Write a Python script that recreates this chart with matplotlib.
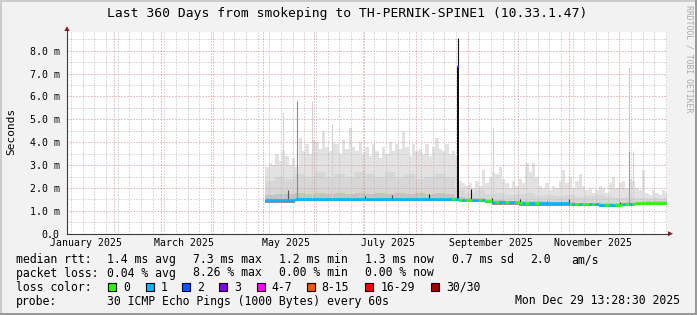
import matplotlib
matplotlib.use('Agg')
import matplotlib.pyplot as plt
import matplotlib.dates as mdates
from matplotlib.patches import Rectangle, Polygon
import numpy as np
import pandas as pd

plt.rcParams['font.family'] = 'DejaVu Sans Mono'

W, H = 697, 315

t_start = pd.Timestamp('2025-01-03 13:28:30')
t_end = pd.Timestamp('2025-12-29 13:28:30')

# smoke, one sample every 2 days starting 2 May
smoke_start = '2025-05-02 14:00'
smoke_top = [2.9, 3.1, 3.0, 3.5, 3.2, 3.6, 3.4, 3.0, 3.3, 2.9,
             4.2, 3.6, 3.9, 3.5, 4.1, 4.0, 3.7, 4.5, 3.8, 3.6,
             4.0, 3.9, 3.5, 4.1, 3.7, 4.6, 3.8, 3.6, 4.0, 3.5,
             3.8, 3.4, 3.9, 3.6, 3.3, 3.8, 3.5, 4.0, 3.6, 3.9,
             3.7, 4.5, 3.8, 3.4, 3.9, 3.6, 3.7, 3.5, 3.9, 3.4,
             3.8, 4.2, 3.7, 3.6, 3.9, 3.5, 3.6, 3.4, 2.3, 2.2,
             2.1, 2.2, 2.0, 2.3, 2.1, 2.8, 2.2, 2.5, 2.7, 2.6,
             2.9, 2.4, 2.2, 2.0, 2.3, 2.1, 2.4, 2.2, 3.1, 2.7,
             3.1, 2.5, 2.1, 2.0, 2.2, 1.9, 2.1, 2.0, 2.3, 2.8,
             2.2, 2.5, 2.0, 2.3, 2.6, 2.1, 1.9, 2.0, 1.8, 1.9,
             2.1, 2.0, 1.8, 2.2, 2.5, 2.0, 2.2, 2.3, 2.0, 2.4,
             2.3, 2.0, 1.9, 2.8, 1.8, 1.7, 1.9, 1.8, 1.7, 1.9,
             1.8]

# denser smoke bands, one value per 6 days
smoke_mid = [2.3, 2.5, 2.4, 2.6, 2.5, 2.7, 2.5, 2.6, 2.5, 2.7,
             2.6, 2.5, 2.7, 2.5, 2.6, 2.4, 2.5, 2.6, 2.5,
             1.9, 1.8, 1.9, 1.75, 1.8, 1.7, 1.75, 1.8, 1.65, 1.7,
             1.65, 1.7, 1.6, 1.65, 1.7, 1.6, 1.55, 1.6, 1.55, 1.55,
             1.55, 1.55]
smoke_dark = [1.7, 1.75, 1.75, 1.8, 1.75, 1.8, 1.75, 1.8, 1.75, 1.8,
              1.75, 1.8, 1.75, 1.8, 1.75, 1.8, 1.75, 1.8, 1.75,
              1.6, 1.55, 1.55, 1.5, 1.48, 1.45, 1.42, 1.42, 1.42, 1.38,
              1.38, 1.38, 1.36, 1.36, 1.34, 1.34, 1.36, 1.4, 1.4, 1.42,
              1.42, 1.42]

median_rtt = ([1.46] * 9 + [1.53] * 49 + [1.47] * 8 + [1.44] * 2 + [1.37] * 8
              + [1.33] * 15 + [1.31] * 9 + [1.27] * 7 + [1.29] * 4 + [1.34] * 10)

loss = ([1] * 56 + [0, 1]
        + [0, 1, 0, 0, 1, 1, 0, 1, 0, 0, 1, 0, 1, 1, 0, 1, 1, 0, 0, 1,
           0, 1, 1, 0, 1, 1, 1, 1, 1, 1, 1, 1, 1, 0, 1, 0, 1, 0, 0, 1,
           0, 1, 1, 1, 0, 1, 1, 0, 0, 1, 0, 1, 0]
        + [0] * 10)

# single thin columns of smoke (spikes and dense spots)
col_dates = ['2025-05-13 04:00', '2025-05-30 09:00', '2025-06-11 09:40', '2025-09-16 04:00',
             '2025-12-09 04:00',
             '2025-05-16 08:40', '2025-05-21 17:00', '2025-07-01 08:40', '2025-07-17 09:00',
             '2025-08-09 00:00', '2025-08-26 08:40', '2025-09-02 23:00', '2025-09-15 09:00',
             '2025-10-02 08:40', '2025-10-18 09:00', '2025-10-31 19:00', '2025-12-01 09:00',
             '2025-12-06 23:00', '2025-12-06 23:00']
col_low = [1.5, 1.5, 1.5, 1.4, 1.3,
           1.5, 1.45, 1.5, 1.5, 1.5, 1.5, 1.45, 1.4, 1.33, 1.3, 1.3, 1.25, 1.25, 3.6]
col_high = [5.3, 5.8, 4.8, 4.6, 3.6,
            1.9, 5.8, 1.65, 1.7, 1.75, 7.3, 1.95, 1.55, 1.5, 1.45, 1.5, 1.4, 3.6, 7.3]
col_shade = ['#d2d2d2', '#d2d2d2', '#d2d2d2', '#d2d2d2', '#d2d2d2',
             '#555555', '#8a8a8a', '#333333', '#444444', '#222222', '#111111', '#111111',
             '#333333', '#333333', '#333333', '#444444', '#333333', '#9c9c9c', '#cccccc']

spike_date = '2025-08-26 08:40'
spike_max = 8.55
spike_median = 7.3
spike_loss = 3

loss_colors = ['#26ff00', '#00b8ff', '#0059ff', '#7e00ff', '#ff00ff', '#ff5500', '#ff0000', '#a10000']
loss_labels = ['0', '1', '2', '3', '4-7', '8-15', '16-29', '30/30']

month_labels = ['January 2025', 'March 2025', 'May 2025', 'July 2025', 'September 2025', 'November 2025']
month_label_dates = ['2025-01-15', '2025-03-15', '2025-05-15', '2025-07-15', '2025-09-15', '2025-11-15']

y_ticks = [0, 1, 2, 3, 4, 5, 6, 7, 8]
y_labels = ['0.0', '1.0 m', '2.0 m', '3.0 m', '4.0 m', '5.0 m', '6.0 m', '7.0 m', '8.0 m']

title = 'Last 360 Days from smokeping to TH-PERNIK-SPINE1 (10.33.1.47)'
rtt_stats = ['1.4 ms avg', '7.3 ms max', '1.2 ms min', '1.3 ms now', '0.7 ms sd', '2.0', 'am/s']
loss_stats = ['0.04 % avg', '8.26 % max', '0.00 % min', '0.00 % now']
probe_text = '30 ICMP Echo Pings (1000 Bytes) every 60s'
stamp = 'Mon Dec 29 13:28:30 2025'

# ---------------------------------------------------------------
YMAX = 8.8
fig = plt.figure(figsize=(W / 100, H / 100), dpi=100, facecolor='#f2f2f2')
ax = fig.add_axes([67 / W, (H - 233.7) / H, 600 / W, 201.3 / H])
ax.set_facecolor('white')

edges = mdates.date2num(pd.date_range(smoke_start, periods=len(smoke_top) + 1, freq='2D'))
top = np.array(smoke_top)
med = np.array(median_rtt)
mid = np.minimum(np.repeat(smoke_mid, 3)[:len(top)], top)
dark = np.minimum(np.repeat(smoke_dark, 3)[:len(top)], top)
low = med - 0.1

ax.stairs(top, edges, baseline=low, fill=True, color='#e2e2e2', lw=0, zorder=1)
ax.stairs(mid, edges, baseline=low, fill=True, color='#d7d7d7', lw=0, zorder=1.1)
ax.stairs(dark, edges, baseline=low, fill=True, color='#c3c3c3', lw=0, zorder=1.2)
ax.stairs(med, edges, baseline=low, fill=True, color='#909090', lw=0, zorder=1.3)

# grid
x0, x1 = mdates.date2num(t_start), mdates.date2num(t_end)
mondays = pd.date_range('2025-01-06', '2025-12-29', freq='7D')
month_starts = pd.date_range('2025-02-01', '2025-12-01', freq='MS')
minor_v = [d for d in mondays if d.day != 1]
dot = (0, (1, 2))
ax.vlines(mdates.date2num(minor_v), 0, YMAX, colors='#b8b8b8', lw=0.72, linestyles=dot, zorder=2)
ax.vlines(mdates.date2num(month_starts), 0, YMAX, colors='#e08888', lw=0.72, linestyles=dot, zorder=2.1)
ax.hlines(np.arange(0.5, YMAX, 1.0), x0, x1, colors='#b8b8b8', lw=0.72, linestyles=dot, zorder=2)
ax.hlines(np.arange(1, 9), x0, x1, colors='#e08888', lw=0.72, linestyles=dot, zorder=2.1)

# thin columns and the big spike
cd = mdates.date2num(pd.to_datetime(col_dates))
widths = [1.44 if c == spike_date else 0.8 for c in col_dates]
ax.vlines(cd, col_low, col_high, colors=col_shade, lw=widths, zorder=2.5)
sd = mdates.date2num(pd.Timestamp(spike_date))
ax.vlines([sd], [spike_median], [spike_max], colors='#111111', lw=0.8, zorder=2.5)

# median line coloured by loss
ax.hlines(med, edges[:-1], edges[1:], colors=[loss_colors[k] for k in loss], lw=2.0, zorder=4)
ax.plot([sd], [spike_median], marker='s', ms=1.6, mew=0, color=loss_colors[spike_loss], zorder=5)

ax.set_xlim(x0, x1)
ax.set_ylim(0, YMAX)
for s in ax.spines.values():
    s.set_visible(False)
ax.set_xticks(mdates.date2num(pd.to_datetime(month_label_dates)), month_labels)
ax.set_yticks(y_ticks, y_labels)
ax.tick_params(axis='x', length=0, pad=3.0, labelsize=7.1)
ax.tick_params(axis='y', length=0, pad=5.4, labelsize=7.1)

# overlay in pixel coordinates for frame, arrows and legend
ov = fig.add_axes([0, 0, 1, 1], zorder=5)
ov.set_xlim(0, W)
ov.set_ylim(H, 0)
ov.axis('off')
ov.patch.set_alpha(0)

ov.add_patch(Rectangle((0, 0), W, 2, color='#cbcbcb', lw=0))
ov.add_patch(Rectangle((0, 0), 2, H, color='#cbcbcb', lw=0))
ov.add_patch(Rectangle((0, H - 2.5), W, 2.5, color='#999999', lw=0))
ov.add_patch(Rectangle((W - 2.5, 0), 2.5, H, color='#999999', lw=0))

axis_c = '#3a3a3a'
arrow_c = '#8b1a1a'
ov.plot([67, 67], [233.7, 30.5], color=axis_c, lw=0.8)
ov.plot([67, 668], [233.7, 233.7], color=axis_c, lw=0.8)
ov.add_patch(Polygon([(64.3, 31), (69.7, 31), (67, 26.3)], closed=True, color=arrow_c, lw=0))
ov.add_patch(Polygon([(668, 231.2), (668, 236.2), (673, 233.7)], closed=True, color=arrow_c, lw=0))

ov.text(347, 13.5, title, fontsize=9.4, ha='center', va='center')
ov.text(11, 131.5, 'Seconds', fontsize=8, rotation=90, ha='center', va='center')
ov.text(688.5, 59, 'RRDTOOL / TOBI OETIKER', fontsize=5.9, rotation=270,
        ha='center', va='center', color='#a8a8a8')

fs = 8.3
cols = [107.3, 192.7, 279.3, 365.3, 451.7, 530, 571.7]
rows = [259.7, 273, 287.3, 301]
ov.text(16, rows[0], 'median rtt:', fontsize=fs, va='center')
for x, s in zip(cols, rtt_stats):
    ov.text(x, rows[0], s, fontsize=fs, va='center')
ov.text(16, rows[1], 'packet loss:', fontsize=fs, va='center')
for x, s in zip(cols, loss_stats):
    ov.text(x, rows[1], s, fontsize=fs, va='center')
ov.text(16, rows[2], 'loss color:', fontsize=fs, va='center')
sw_x = [108.3, 145.7, 182.3, 219, 256.7, 306.7, 365.3, 431]
for x, c, lab in zip(sw_x, loss_colors, loss_labels):
    ov.add_patch(Rectangle((x, 283), 8, 8, facecolor=c, edgecolor='black', lw=0.8))
    ov.text(x + 15, rows[2], lab, fontsize=fs, va='center')
ov.text(16, rows[3], 'probe:', fontsize=fs, va='center')
ov.text(cols[0], rows[3], probe_text, fontsize=fs, va='center')
ov.text(680, rows[3], stamp, fontsize=fs, va='center', ha='right')

fig.savefig('out.png', dpi=100, facecolor=fig.get_facecolor())
